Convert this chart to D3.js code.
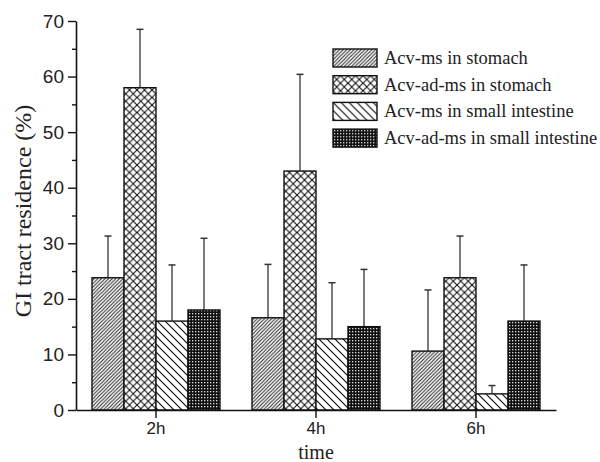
<!DOCTYPE html>
<html>
<head>
<meta charset="utf-8">
<script src="https://cdn.jsdelivr.net/npm/d3@7"></script>
<style>
  body { margin: 0; background: #fff; }
  svg { display: block; }
</style>
</head>
<body>
<svg></svg>
<script>
"use strict";
// data
var times = ["2h", "4h", "6h"];
var series = ["Acv-ms in stomach", "Acv-ad-ms in stomach", "Acv-ms in small intestine", "Acv-ad-ms in small intestine"];
var means = [
  [23.8, 16.6, 10.6],
  [58.0, 43.0, 23.8],
  [16.0, 12.8, 2.9],
  [18.0, 15.0, 16.0]
];
var errTops = [
  [31.3, 26.2, 21.6],
  [68.5, 60.4, 31.3],
  [26.1, 22.9, 4.4],
  [30.9, 25.3, 26.1]
];
var yTicks = [0, 10, 20, 30, 40, 50, 60, 70];
var yMinor = [5, 15, 25, 35, 45, 55, 65];

var svgWidth = 600, svgHeight = 462;
var svg = d3.select("svg").attr("width", svgWidth).attr("height", svgHeight);

var x0 = d3.scaleBand().domain(times).range([76, 556]).paddingInner(0.2).paddingOuter(0.1);
var x1 = d3.scaleBand().domain(d3.range(series.length)).range([0, x0.bandwidth()]);
var y = d3.scaleLinear().domain([0, 70]).range([410, 21]);

// hatch patterns
var defs = svg.append("defs");
var p0 = defs.append("pattern").attr("id", "pat0").attr("patternUnits", "userSpaceOnUse")
  .attr("width", 3.6).attr("height", 3.6);
p0.append("rect").attr("width", 3.6).attr("height", 3.6).attr("fill", "#fff");
p0.append("path").attr("d", "M-1,1 l2,-2 M0,3.6 l3.6,-3.6 M2.6,4.6 l2,-2")
  .attr("stroke", "#222").attr("stroke-width", 1);

var p1 = defs.append("pattern").attr("id", "pat1").attr("patternUnits", "userSpaceOnUse")
  .attr("width", 7.5).attr("height", 7.5);
p1.append("rect").attr("width", 7.5).attr("height", 7.5).attr("fill", "#fff");
p1.append("path").attr("d", "M0,0 L7.5,7.5 M7.5,0 L0,7.5")
  .attr("stroke", "#111").attr("stroke-width", 1.1);

var p2 = defs.append("pattern").attr("id", "pat2").attr("patternUnits", "userSpaceOnUse")
  .attr("width", 8).attr("height", 8);
p2.append("rect").attr("width", 8).attr("height", 8).attr("fill", "#fff");
p2.append("path").attr("d", "M-1,7 l2,2 M0,0 L8,8 M7,-1 l2,2")
  .attr("stroke", "#111").attr("stroke-width", 1.2);

var p3 = defs.append("pattern").attr("id", "pat3").attr("patternUnits", "userSpaceOnUse")
  .attr("width", 3).attr("height", 3);
p3.append("rect").attr("width", 3).attr("height", 3).attr("fill", "#111");
p3.append("rect").attr("x", 1).attr("y", 1).attr("width", 1.3).attr("height", 1.3).attr("fill", "#ddd");

var fills = ["url(#pat0)", "url(#pat1)", "url(#pat2)", "url(#pat3)"];

// bars
var groups = svg.selectAll("g.grp").data(times).enter().append("g")
  .attr("class", "grp")
  .attr("transform", function(d) { return "translate(" + x0(d) + ",0)"; });

groups.each(function(t, ti) {
  var g = d3.select(this);
  series.forEach(function(s, si) {
    var bx = x1(si), bw = x1.bandwidth();
    var cx = bx + bw / 2;
    // error bar (upper only)
    g.append("line").attr("x1", cx).attr("x2", cx)
      .attr("y1", y(means[si][ti])).attr("y2", y(errTops[si][ti]))
      .attr("stroke", "#333").attr("stroke-width", 1.3);
    g.append("line").attr("x1", cx - 3.5).attr("x2", cx + 3.5)
      .attr("y1", y(errTops[si][ti])).attr("y2", y(errTops[si][ti]))
      .attr("stroke", "#333").attr("stroke-width", 1.5);
    g.append("rect")
      .attr("x", bx).attr("y", y(means[si][ti]))
      .attr("width", bw).attr("height", y(0) - y(means[si][ti]))
      .attr("fill", fills[si]).attr("stroke", "#111").attr("stroke-width", 1.4);
  });
});

// axes
var yAxis = svg.append("g").attr("transform", "translate(76,0)")
  .call(d3.axisLeft(y).tickValues(yTicks).tickSize(8).tickSizeOuter(0).tickPadding(4));
svg.append("g").attr("transform", "translate(76,0)")
  .call(d3.axisLeft(y).tickValues(yMinor).tickSize(4).tickSizeOuter(0).tickFormat(""))
  .select(".domain").remove();
var xAxis = svg.append("g").attr("transform", "translate(0,410)")
  .call(d3.axisBottom(x0).tickSize(8).tickSizeOuter(0).tickPadding(4));

svg.selectAll(".domain").attr("stroke", "#111").attr("stroke-width", 1.6);
svg.selectAll(".tick line").attr("stroke", "#111").attr("stroke-width", 1.4);
svg.selectAll(".tick text").attr("fill", "#222")
  .style("font-family", "Liberation Sans, Arial, sans-serif");
yAxis.selectAll(".tick text").style("font-size", "19px");
xAxis.selectAll(".tick text").style("font-size", "17px");

// axis titles
svg.append("text").attr("transform", "translate(31,211) rotate(-90)")
  .attr("text-anchor", "middle")
  .style("font-family", "Liberation Serif, Times New Roman, serif").style("font-size", "24px")
  .attr("fill", "#222").text("GI tract residence (%)");
svg.append("text").attr("x", 316).attr("y", 459).attr("text-anchor", "middle")
  .style("font-family", "Liberation Serif, Times New Roman, serif").style("font-size", "20px")
  .attr("fill", "#222").text("time");

// legend
var legend = svg.append("g").attr("transform", "translate(333,49)");
var items = legend.selectAll("g").data(series).enter().append("g")
  .attr("transform", function(d, i) { return "translate(0," + (i * 26.7) + ")"; });
items.append("rect").attr("width", 44).attr("height", 18)
  .attr("fill", function(d, i) { return fills[i]; })
  .attr("stroke", "#111").attr("stroke-width", 1.4);
items.append("text").attr("x", 51).attr("y", 15)
  .style("font-family", "Liberation Serif, Times New Roman, serif").style("font-size", "18.5px")
  .attr("fill", "#222").text(function(d) { return d; });
</script>
</body>
</html>
